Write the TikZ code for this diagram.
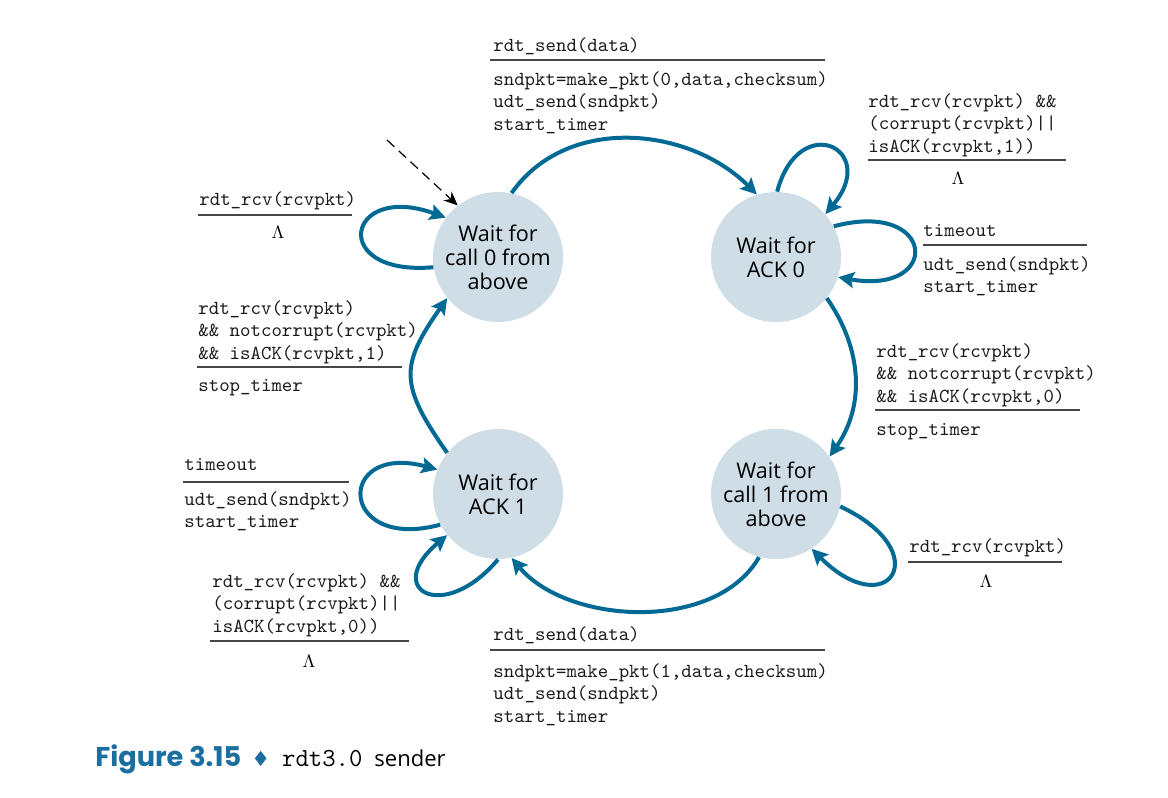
\documentclass[tikz,border=0pt]{standalone}
\usepackage{fontspec}
\setmainfont{Open Sans}
\newfontfamily\capfont{Poppins}
\newfontfamily\symfont{DejaVu Sans}
\usetikzlibrary{arrows.meta}
\definecolor{fsmblue}{RGB}{0,105,148}
\definecolor{capblue}{RGB}{27,110,160}
\definecolor{statefill}{RGB}{207,221,230}
\definecolor{rulegray}{RGB}{70,70,70}
\tikzset{
  state/.style={circle,fill=statefill,minimum size=65pt,inner sep=0pt,align=center,
    font=\fontsize{10.8}{12}\selectfont},
  trans/.style={fsmblue,line width=2pt,-{Stealth[length=8pt,width=8pt,inset=1.5pt]}},
  guard/.style={anchor=base west,inner sep=0pt,align=left,text=black!90,
    font=\fontsize{9.95}{11.25}\selectfont\ttfamily},
  divider/.style={rulegray,line width=0.6pt},
  lam/.style={inner sep=0pt,font=\fontsize{9.5}{10}\selectfont},
}
\begin{document}
\begin{tikzpicture}[x=0.5pt,y=-0.5pt,>=Stealth]
\useasboundingbox (0,0) rectangle (1168,798);
% states
\node[state] (c0) at (498,257) {Wait for\\call 0 from\\above};
\node[state] (a0) at (776,257) {Wait for\\ACK 0};
\node[state] (c1) at (776,494) {Wait for\\call 1 from\\above};
\node[state] (a1) at (498,494) {Wait for\\ACK 1};
% initial arrow
\coordinate (init) at (387,140);
\draw[dash pattern=on 5pt off 3pt,line width=0.6pt,-{Stealth[length=7pt,width=6pt]}] (init) -- (c0.128);
% transitions
\draw[trans] (c0.78) to[out=55,in=135] (a0.107);
\draw[trans] (a0.89) to[out=75,in=50,distance=42.5pt] (a0.41);
\draw[trans] (a0.28) to[out=15,in=-10,distance=53pt] (a0.-18);
\draw[trans] (a0.-39) to[out=-55,in=55] (c1.35);
\draw[trans] (c1.-11) to[out=-25,in=-45,distance=54pt] (c1.-57);
\draw[trans] (c1.-105) to[out=-120,in=-50,looseness=0.9] (a1.-78);
\draw[trans] (a1.-90) to[out=-130,in=-140,distance=42.5pt] (a1.-141);
\draw[trans] (a1.-152) to[out=195,in=165,distance=53pt] (a1.158);
\draw[trans] (a1.141) to[out=125,in=235,distance=41.5pt] (c0.-141);
\draw[trans] (c0.-171) to[out=185,in=160,distance=53pt] (c0.143);
% c0 -> a0 (multi-line nodes sit on their last baseline)
\node[guard] (g1) at (493,51) {rdt\_send(data)};
\draw[divider] (490,60) -- (825,60);
\node[guard] (act1) at (493,130) {sndpkt=make\_pkt(0,data,checksum)\\udt\_send(sndpkt)\\start\_timer};
% a0 self loops
\node[guard] (g2) at (868,152) {rdt\_rcv(rcvpkt) \&\&\\(corrupt(rcvpkt)||\\isACK(rcvpkt,1))};
\draw[divider] (868,160) -- (1066,160);
\node[lam] (lam2) at (958,178) {$\Lambda$};
\node[guard] (g3) at (923,236) {timeout};
\draw[divider] (923,245) -- (1087,245);
\node[guard] (act3) at (923,292.5) {udt\_send(sndpkt)\\start\_timer};
% a0 -> c1
\node[guard] (g4) at (876,402) {rdt\_rcv(rcvpkt)\\\&\& notcorrupt(rcvpkt)\\\&\& isACK(rcvpkt,0)};
\draw[divider] (875,410) -- (1080,410);
\node[guard] (act4) at (876,435) {stop\_timer};
% c1 self loop
\node[guard] (g5) at (909,552) {rdt\_rcv(rcvpkt)};
\draw[divider] (908,562) -- (1062,562);
\node[lam] (lam5) at (986,581) {$\Lambda$};
% c1 -> a1
\node[guard] (g6) at (493,640) {rdt\_send(data)};
\draw[divider] (490,650) -- (825,650);
\node[guard] (act6) at (493,722) {sndpkt=make\_pkt(1,data,checksum)\\udt\_send(sndpkt)\\start\_timer};
% a1 self loops
\node[guard] (g7) at (212,632) {rdt\_rcv(rcvpkt) \&\&\\(corrupt(rcvpkt)||\\isACK(rcvpkt,0))};
\draw[divider] (210,641) -- (409,641);
\node[lam] (lam7) at (309,661) {$\Lambda$};
\node[guard] (g8) at (184,470) {timeout};
\draw[divider] (183,482) -- (349,482);
\node[guard] (act8) at (184,527.5) {udt\_send(sndpkt)\\start\_timer};
% a1 -> c0
\node[guard] (g9) at (198,359) {rdt\_rcv(rcvpkt)\\\&\& notcorrupt(rcvpkt)\\\&\& isACK(rcvpkt,1)};
\draw[divider] (197,367) -- (402,367);
\node[guard] (act9) at (198,391) {stop\_timer};
% c0 self loop
\node[guard] (g10) at (199,205) {rdt\_rcv(rcvpkt)};
\draw[divider] (198,215) -- (352,215);
\node[lam] (lam10) at (278,232) {$\Lambda$};
% caption
\node[anchor=base west,inner sep=0pt] (cap) at (95,766)
  {{\capfont\bfseries\fontsize{13.6}{15}\selectfont\color{capblue}Figure 3.15}\hspace{5pt}{\symfont\fontsize{10.5}{12}\selectfont\color{capblue}♦}\hspace{6pt}{\ttfamily\fontsize{13}{14}\selectfont rdt3.0}\hspace{6pt}{\fontsize{11}{12}\selectfont sender}};
\end{tikzpicture}
\end{document}
